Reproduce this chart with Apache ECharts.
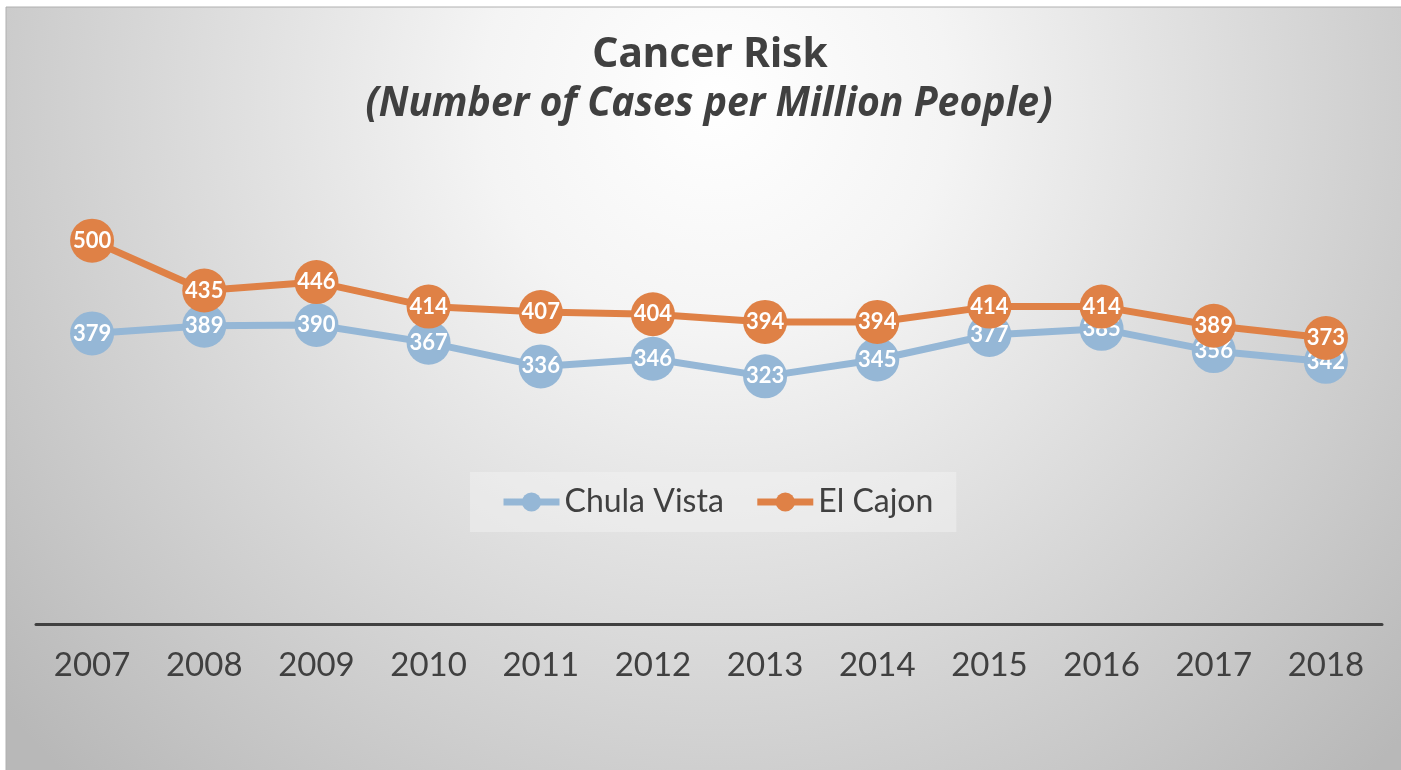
<!DOCTYPE html>
<html>
<head>
<meta charset="utf-8">
<script src="https://cdn.jsdelivr.net/npm/echarts@6/dist/echarts.min.js"></script>
<style>
html,body{margin:0;padding:0;background:#fff;}
#chart{width:1401px;height:770px;}
</style>
</head>
<body>
<div id="chart"></div>
<script>
const years = ['2007','2008','2009','2010','2011','2012','2013','2014','2015','2016','2017','2018'];
const chulaVista = [379, 389, 390, 367, 336, 346, 323, 345, 377, 385, 356, 342];
const elCajon = [500, 435, 446, 414, 407, 404, 394, 394, 414, 414, 389, 373];
const seriesNames = ['Chula Vista', 'El Cajon'];
const titleText = 'Cancer Risk';
const subtitleText = '(Number of Cases per Million People)';

const chart = echarts.init(document.getElementById('chart'));
const labelFont = "Lato, 'Noto Sans', sans-serif";
const titleFont = "'Noto Sans', sans-serif";
const option = {
  backgroundColor: '#ffffff',
  graphic: [{
    type: 'rect',
    z: -10,
    silent: true,
    shape: {x: 6, y: 7, width: 1420, height: 780},
    style: {
      fill: {
        type: 'radial', x: 0.5, y: 0.12, r: 1.2,
        colorStops: [
          {offset: 0, color: '#ffffff'},
          {offset: 0.25, color: '#f4f4f4'},
          {offset: 1, color: '#b8b8b8'}
        ]
      },
      stroke: '#b0b0b0', lineWidth: 1
    }
  }, {
    type: 'text',
    silent: true,
    x: 710, y: 34,
    scaleX: 0.968,
    style: {
      text: titleText,
      font: "bold 42px " + titleFont,
      fill: '#404040',
      textAlign: 'center',
      textVerticalAlign: 'top'
    }
  }, {
    type: 'text',
    silent: true,
    x: 709, y: 83,
    scaleX: 0.933,
    style: {
      text: subtitleText,
      font: "italic bold 42px " + titleFont,
      fill: '#404040',
      textAlign: 'center',
      textVerticalAlign: 'top'
    }
  }],
  legend: {
    data: seriesNames,
    left: 470,
    top: 472,
    padding: [14, 23, 14, 30],
    backgroundColor: 'rgba(245,245,245,0.45)',
    itemWidth: 56,
    itemHeight: 24,
    itemGap: 30,
    lineStyle: {width: 7},
    textStyle: {fontFamily: labelFont, fontSize: 32, color: '#404040'}
  },
  grid: {left: 36, right: 19, top: 164, bottom: 146},
  xAxis: {
    type: 'category',
    data: years,
    boundaryGap: true,
    axisLine: {lineStyle: {color: '#404040', width: 3}},
    axisTick: {show: false},
    axisLabel: {fontFamily: labelFont, fontSize: 33, color: '#404040', margin: 25}
  },
  yAxis: {
    type: 'value',
    min: 0,
    max: 600,
    show: false,
    splitLine: {show: false}
  },
  series: [{
    name: seriesNames[0],
    type: 'line',
    z: 2,
    data: chulaVista,
    symbol: 'circle',
    symbolSize: 44,
    color: '#95b7d6',
    lineStyle: {width: 7, color: '#95b7d6'},
    itemStyle: {color: '#95b7d6'},
    label: {show: true, position: 'inside', color: '#ffffff', fontFamily: labelFont, fontWeight: 'bold', fontSize: 22},
    emphasis: {disabled: true}
  }, {
    name: seriesNames[1],
    type: 'line',
    z: 3,
    data: elCajon,
    symbol: 'circle',
    symbolSize: 44,
    color: '#df8146',
    lineStyle: {width: 7, color: '#df8146'},
    itemStyle: {color: '#df8146'},
    label: {show: true, position: 'inside', color: '#ffffff', fontFamily: labelFont, fontWeight: 'bold', fontSize: 22},
    emphasis: {disabled: true}
  }],
  animation: false
};
chart.setOption(option);
</script>
</body>
</html>
